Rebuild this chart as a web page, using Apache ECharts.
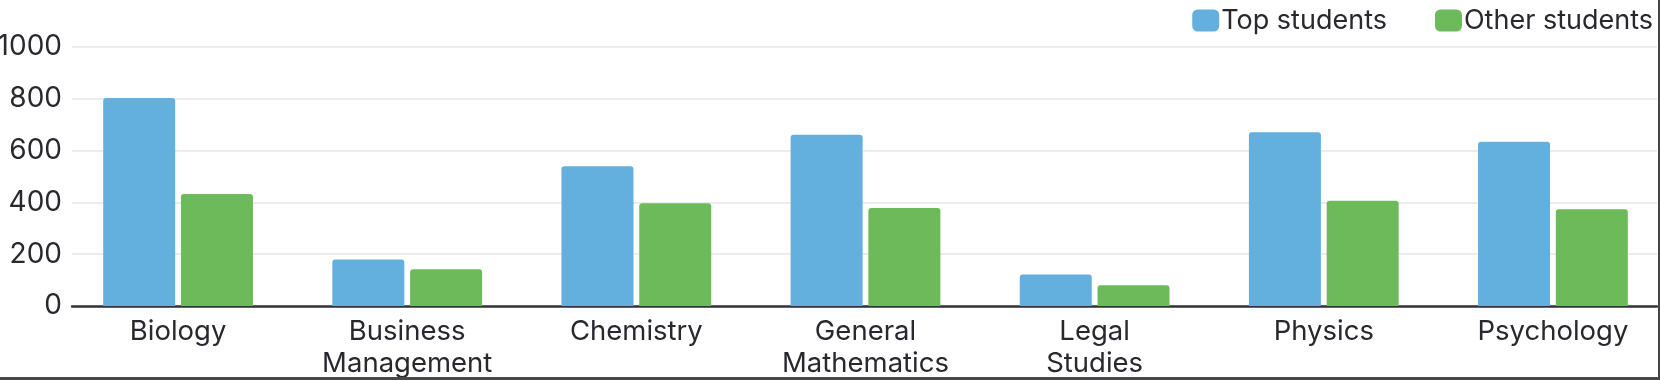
<!DOCTYPE html>
<html>
<head>
<meta charset="utf-8">
<script src="https://cdn.jsdelivr.net/npm/echarts@6/dist/echarts.min.js"></script>
<style>
  html, body { margin: 0; padding: 0; background: #fff; }
  #wrap { width: 1660px; height: 380px; box-sizing: border-box; border-right: 2px solid #474747; border-bottom: 3px solid #474747; overflow: hidden; position: relative; }
  #chart { width: 1658px; height: 377px; }
</style>
</head>
<body>
<div id="wrap"><div id="chart"></div></div>
<script>
const categories = ['Biology', 'Business\nManagement', 'Chemistry', 'General\nMathematics', 'Legal\nStudies', 'Physics', 'Psychology'];
const seriesNames = ['Top students', 'Other students'];
const topStudents = [803, 180, 540, 661, 122, 671, 634];
const otherStudents = [432, 142, 397, 378, 80, 406, 374];
const yMin = 0, yMax = 1000, yInterval = 200;

const FONT = 'Inter, "Noto Sans", sans-serif';
const TEXT = '#28282f';

const chart = echarts.init(document.getElementById('chart'), null, { renderer: 'canvas' });
chart.setOption({
  animation: false,
  textStyle: { fontFamily: FONT },
  legend: {
    right: 0, top: 2,
    itemWidth: 27, itemHeight: 22, itemGap: 48,
    icon: 'roundRect',
    textStyle: { fontSize: 27, color: TEXT, fontFamily: FONT, padding: [0, 0, 0, -3] },
    data: seriesNames
  },
  grid: [
    { left: 63.5, width: 1604, top: 47, height: 259, containLabel: false, outerBoundsMode: 'none' },
    { left: 72, width: 1585, top: 47, height: 259, containLabel: false, outerBoundsMode: 'none' }
  ],
  xAxis: [
    {
      type: 'category', gridIndex: 0, data: categories,
      axisLine: { show: false }, axisTick: { show: false },
      axisLabel: { fontSize: 27.5, color: TEXT, fontFamily: FONT, margin: 10, lineHeight: 32, interval: 0 }
    },
    {
      type: 'value', gridIndex: 1, min: 0, max: 1,
      axisLine: { show: true, onZero: false, lineStyle: { color: '#333338', width: 2.5 } },
      axisTick: { show: false }, axisLabel: { show: false }, splitLine: { show: false }
    }
  ],
  yAxis: [
    {
      type: 'value', gridIndex: 0, min: yMin, max: yMax, interval: yInterval,
      axisLine: { show: false }, axisTick: { show: false }, axisLabel: { show: false }, splitLine: { show: false }
    },
    {
      type: 'value', gridIndex: 1, min: yMin, max: yMax, interval: yInterval,
      axisLine: { show: false }, axisTick: { show: false },
      axisLabel: { fontSize: 28, color: TEXT, fontFamily: FONT, margin: 10, formatter: v => String(v) },
      splitLine: { show: true, lineStyle: { color: '#e6e6e6', width: 1.5 } }
    }
  ],
  series: [
    {
      name: seriesNames[0], type: 'bar', xAxisIndex: 0, yAxisIndex: 0,
      data: topStudents, barWidth: 72, barGap: '8%', z: 3,
      itemStyle: { color: '#63b0df', borderRadius: [3, 3, 0, 0] }
    },
    {
      name: seriesNames[1], type: 'bar', xAxisIndex: 0, yAxisIndex: 0,
      data: otherStudents, barWidth: 72, barGap: '8%', z: 3,
      itemStyle: { color: '#6dba5a', borderRadius: [3, 3, 0, 0] }
    }
  ]
});
</script>
</body>
</html>
